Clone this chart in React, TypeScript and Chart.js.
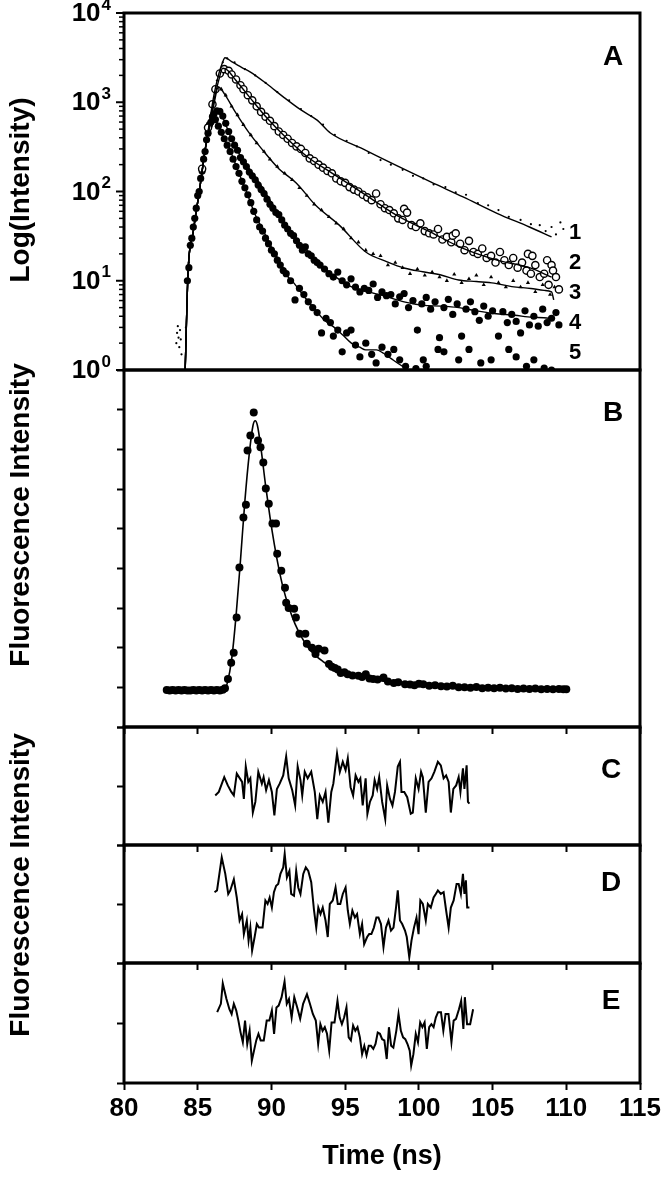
import React, { useEffect, useRef } from "react";
import { Chart, registerables } from "chart.js";

Chart.register(...registerables);

const FONT = '"Liberation Sans", Arial, Helvetica, sans-serif';
Chart.defaults.font.family = FONT;
Chart.defaults.color = "#000";

type Pt = [number, number];

// ---------------- Panel A : decay curves (time ns, counts) ----------------
const decayFit1: Pt[] = [
  [84.15, 1], [84.35, 13], [84.68, 34], [85.15, 112], [85.5, 290], [85.8, 600], [86.1, 1200], [86.4, 2000],
  [86.65, 2700], [86.85, 3150], [87.3, 2850], [88.0, 2450], [88.55, 2190], [89.7, 1600], [90.8, 1150],
  [92.0, 820], [93.1, 630], [94.0, 452], [96.2, 300], [98.5, 195], [100.8, 128], [103.0, 87], [105.3, 57],
  [107.5, 40], [109.0, 31],
];
const decayFit2: Pt[] = [
  [84.15, 1], [84.35, 13], [84.68, 34], [85.15, 112], [85.5, 290], [85.8, 560], [86.1, 1050], [86.4, 1700],
  [86.7, 2400], [87.0, 2300], [87.6, 1750], [88.5, 1150], [89.7, 665], [91.0, 400], [92.5, 240], [94.0, 165],
  [96.2, 96], [98.5, 54], [100.8, 35], [103.0, 23], [105.3, 17], [107.5, 14], [109.0, 11],
];
const decayFit3: Pt[] = [
  [84.15, 1], [84.35, 13], [84.68, 34], [85.15, 112], [85.5, 290], [85.8, 540], [86.1, 950], [86.4, 1480],
  [86.8, 1250], [87.5, 800], [88.5, 450], [89.4, 292], [90.5, 180], [91.7, 124], [93.0, 70], [94.6, 42],
  [96.4, 21], [97.85, 16.3], [99.06, 13.8], [100.27, 12.6], [101.5, 11.6], [102.7, 10.2], [103.9, 9.8],
  [105.1, 9.4], [106.3, 8.6], [107.6, 8.2], [108.5, 7.8], [109.0, 7.5], [109.15, 6.1],
];
const decayFit4: Pt[] = [
  [84.15, 1], [84.35, 13], [84.68, 34], [85.15, 112], [85.5, 290], [85.8, 520], [86.1, 740], [86.4, 820],
  [86.8, 620], [87.2, 420], [87.66, 292], [88.4, 190], [89.2, 124], [89.9, 80], [90.6, 52], [91.5, 32],
  [92.4, 22], [93.3, 15], [94.2, 11.5], [95.4, 8.6], [96.5, 7.6], [97.85, 6.6], [99.0, 5.8], [100.3, 5.3],
  [101.5, 5.2], [102.7, 5.0], [103.9, 4.6], [105.1, 4.3], [106.5, 4.1], [107.7, 3.9], [108.8, 3.8], [109.1, 3.6],
];
const decayFit5: Pt[] = [
  [84.15, 1], [84.35, 13], [84.68, 34], [85.15, 112], [85.5, 290], [85.8, 560], [86.0, 680], [86.3, 600],
  [86.7, 420], [87.19, 292], [87.8, 160], [88.34, 96], [88.9, 55], [89.5, 35], [90.1, 22], [90.6, 16],
  [91.05, 11.5], [91.53, 9.4], [92.3, 6.4], [92.99, 4.7], [93.6, 3.6], [94.2, 3.06], [94.8, 2.5], [95.42, 2.0],
  [96.0, 1.8], [96.39, 1.68], [97.12, 1.68], [97.6, 1.54], [98.1, 1.35], [98.57, 1.19], [99.3, 1.0], [100.0, 0.85],
];

const decayData1: Pt[] = [
  [83.55, 2.0], [83.6, 2.6], [83.65, 3.1], [83.7, 2.3], [83.75, 1.8], [83.8, 2.8], [83.85, 2.2], [83.9, 1.5],
  [84.2, 3], [84.4, 16], [84.6, 30], [85.0, 85], [85.4, 230], [85.9, 720], [86.3, 1750],
  [86.7, 2800], [87.0, 3100], [87.5, 2800], [88.2, 2350], [88.9, 2000], [89.6, 1650], [90.4, 1300], [91.2, 1050],
  [92.0, 840], [92.7, 700], [93.5, 560], [94.3, 430], [95.1, 370], [95.8, 320], [96.6, 270], [97.4, 225],
  [98.1, 200], [98.9, 175], [99.6, 150], [100.3, 140], [101.0, 120], [101.8, 112], [102.5, 98], [103.2, 92],
  [104.0, 74], [104.7, 70], [105.4, 62], [106.1, 52], [106.9, 48], [107.6, 43], [108.2, 42], [108.6, 36],
  [109.0, 40], [109.3, 33], [109.6, 45], [109.8, 38],
];
const decayData2: Pt[] = [
  [85.3, 180], [85.7, 520], [86.0, 950],
  [86.2, 1400], [86.5, 2100], [86.8, 2350], [87.1, 2250], [87.3, 2050], [87.6, 1800], [87.9, 1550], [88.1, 1400],
  [88.4, 1200], [88.7, 1050], [89.0, 900], [89.3, 780], [89.6, 690], [89.9, 620], [90.2, 540], [90.5, 470],
  [90.8, 430], [91.1, 390], [91.4, 350], [91.7, 320], [92.0, 300], [92.3, 270], [92.6, 235], [92.9, 220],
  [93.2, 200], [93.5, 185], [93.8, 170], [94.1, 160], [94.4, 140], [94.7, 130], [95.0, 125], [95.3, 112],
  [95.6, 105], [95.9, 100], [96.2, 92], [96.5, 86], [96.8, 80], [97.1, 95], [97.4, 72], [97.7, 65], [98.0, 62],
  [98.3, 57], [98.6, 50], [98.9, 48], [99.0, 64], [99.2, 58], [99.5, 42], [99.8, 40], [100.1, 44], [100.4, 36],
  [100.7, 34], [101.0, 33], [101.3, 38], [101.6, 29], [101.9, 31], [102.2, 27], [102.3, 32], [102.5, 34],
  [102.8, 26], [103.1, 22], [103.4, 28], [103.7, 21], [104.0, 20], [104.3, 23], [104.6, 18], [104.9, 19],
  [105.2, 16], [105.5, 21], [105.8, 17], [106.1, 15], [106.4, 18], [106.7, 14], [107.0, 16], [107.3, 13],
  [107.4, 20], [107.6, 12], [107.7, 19], [107.9, 15], [108.2, 11], [108.5, 12], [108.7, 17], [108.8, 9],
  [109.0, 15], [109.1, 13], [109.3, 11], [109.5, 8],
];
const decayData3: Pt[] = [
  [86.0, 900], [86.3, 1350], [86.6, 1400], [86.9, 1200], [87.3, 900], [87.7, 720], [88.1, 560], [88.6, 430],
  [89.0, 350], [89.5, 280], [89.9, 230], [90.4, 190], [90.9, 160], [91.4, 135], [91.9, 110], [92.4, 90],
  [92.9, 72], [93.4, 62], [93.9, 52], [94.4, 44], [94.9, 38], [95.4, 30], [95.9, 27], [96.4, 22], [96.9, 20],
  [97.4, 19], [97.9, 15], [98.4, 16], [98.9, 14], [99.4, 12], [99.9, 13.5], [100.4, 11.5], [100.9, 12.5],
  [101.4, 11], [101.9, 10], [102.4, 11.8], [102.9, 9.5], [103.4, 10.5], [103.9, 11.5], [104.4, 9], [104.9, 11],
  [105.4, 9.5], [105.9, 8.5], [106.4, 10], [106.9, 8.5], [107.4, 9.5], [107.9, 7.5], [108.4, 9], [108.9, 7],
  [109.2, 8.5],
];
const decayData4: Pt[] = [
  [84.3, 10], [84.5, 25], [84.7, 40], [84.9, 65], [85.1, 100], [85.3, 170], [85.5, 280], [85.7, 450], [85.9, 600],
  [86.1, 740], [86.3, 800], [86.5, 790], [86.7, 700], [86.9, 580], [87.1, 470], [87.3, 390], [87.5, 330],
  [87.7, 290], [87.9, 240], [88.1, 215], [88.3, 190], [88.5, 165], [88.7, 150], [88.9, 135], [89.1, 118],
  [89.3, 105], [89.5, 95], [89.7, 82], [89.9, 72], [90.1, 65], [90.3, 58], [90.5, 55], [90.7, 48], [90.9, 42],
  [91.1, 38], [91.3, 34], [91.5, 32], [91.7, 28], [91.9, 25], [92.1, 22], [92.3, 24], [92.5, 20], [92.7, 19],
  [92.9, 17], [93.1, 16], [93.3, 15], [93.6, 13.5], [93.9, 12], [94.2, 11], [94.5, 12.5], [94.8, 10], [95.1, 9],
  [95.4, 10.5], [95.7, 8.5], [96.0, 7.5], [96.3, 8.2], [96.6, 7.8], [96.9, 9.2], [97.2, 6.5], [97.5, 7.5],
  [97.8, 6.8], [98.1, 7.0], [98.4, 5.5], [98.7, 6.6], [99.0, 7.2], [99.3, 5.0], [99.6, 6.0], [99.9, 2.8],
  [100.2, 5.5], [100.5, 6.5], [100.8, 4.8], [101.1, 5.8], [101.4, 2.3], [101.7, 5.0], [102.0, 6.2], [102.3, 4.2],
  [102.6, 5.5], [102.9, 2.4], [103.2, 4.8], [103.5, 5.8], [103.8, 4.5], [104.1, 3.6], [104.4, 5.2], [104.7, 4.0],
  [105.0, 4.6], [105.4, 2.4], [105.7, 4.5], [106.0, 3.4], [106.3, 4.2], [106.6, 3.5], [106.9, 2.6], [107.2, 4.6],
  [107.5, 3.2], [107.8, 4.0], [108.1, 3.1], [108.4, 4.8], [108.7, 3.4], [109.0, 3.8], [109.3, 4.4], [109.5, 3.2],
];
const decayData5: Pt[] = [
  [84.4, 14], [84.6, 30], [84.8, 50], [85.0, 90], [85.2, 140], [85.4, 230],
  [85.6, 380], [85.8, 560], [86.0, 690], [86.2, 640], [86.4, 540], [86.6, 460], [86.8, 390], [87.0, 330],
  [87.2, 280], [87.4, 230], [87.6, 190], [87.8, 160], [88.0, 130], [88.2, 110], [88.4, 92], [88.6, 75],
  [88.8, 60], [89.0, 48], [89.2, 40], [89.4, 36], [89.6, 30], [89.8, 26], [90.0, 22], [90.2, 20], [90.4, 17],
  [90.6, 15], [90.8, 13], [91.0, 12], [91.3, 10], [91.6, 6.1], [91.9, 8.2], [92.2, 7.0], [92.5, 5.8], [92.8, 5.0],
  [93.1, 4.4], [93.4, 2.6], [93.7, 3.8], [94.0, 3.4], [94.2, 2.4], [94.5, 2.8], [94.8, 1.6], [95.1, 2.6],
  [95.4, 2.8], [95.7, 1.9], [96.0, 1.4], [96.4, 2.0], [96.8, 1.5], [97.1, 1.2], [97.5, 1.8], [97.9, 1.5],
  [98.3, 1.7], [98.7, 1.3], [99.1, 1.1], [99.8, 1.04], [100.3, 1.3], [100.5, 1.1], [101.3, 1.7], [101.7, 1.6],
  [102.7, 1.3], [103.4, 1.7], [104.2, 1.2], [104.9, 1.3], [106.1, 1.7], [106.6, 1.4], [107.3, 1.1], [107.8, 1.3],
  [108.5, 1.05], [109.0, 1.0],
];

// ---------------- Panel B : instrument decay with fit ----------------
const pulseData: Pt[] = [
  [82.9, 0.93], [83.1, 0.92], [83.3, 0.93], [83.5, 0.92], [83.7, 0.93], [83.9, 0.92], [84.1, 0.93], [84.3, 0.92],
  [84.5, 0.92], [84.7, 0.93], [84.9, 0.92], [85.1, 0.93], [85.3, 0.92], [85.5, 0.93], [85.7, 0.92], [85.9, 0.93],
  [86.1, 0.92], [86.3, 0.93], [86.5, 0.92], [86.7, 0.94], [86.85, 0.98], [87.05, 1.21], [87.27, 1.62],
  [87.44, 1.87], [87.64, 2.76], [87.83, 4.02], [88.1, 5.28], [88.27, 5.6], [88.38, 6.97], [88.57, 7.35],
  [88.8, 7.93], [89.09, 7.22], [89.26, 7.05], [89.45, 6.67], [89.62, 6.01], [89.82, 5.63], [90.07, 5.13],
  [90.31, 5.13], [90.39, 4.37], [90.67, 3.94], [90.92, 3.51], [91.0, 3.13], [91.17, 3.0], [91.54, 2.98],
  [91.66, 2.76], [91.9, 2.35], [92.3, 2.35], [92.4, 2.1], [92.75, 2.0], [92.99, 1.84], [93.2, 1.97], [93.6, 1.93],
  [93.9, 1.59], [94.1, 1.52], [94.3, 1.49], [94.5, 1.45], [94.7, 1.36], [94.95, 1.38], [95.17, 1.33], [95.5, 1.3],
  [95.9, 1.29], [96.15, 1.26], [96.4, 1.33], [96.65, 1.22], [96.9, 1.21], [97.2, 1.2], [97.6, 1.25], [97.9, 1.15],
  [98.3, 1.11], [98.6, 1.13], [99.06, 1.08], [99.4, 1.07], [99.7, 1.05], [100.0, 1.09], [100.3, 1.08],
  [100.7, 1.04], [101.1, 1.05], [101.5, 1.03], [101.9, 1.02], [102.3, 1.04], [102.7, 1.0], [103.1, 1.0],
  [103.5, 0.99], [103.9, 1.01], [104.3, 0.98], [104.7, 0.99], [105.1, 0.98], [105.5, 0.99], [105.9, 0.97],
  [106.3, 0.98], [106.7, 0.96], [107.1, 0.97], [107.5, 0.96], [107.9, 0.97], [108.3, 0.95], [108.7, 0.96],
  [109.1, 0.95], [109.5, 0.96], [109.8, 0.95], [110.0, 0.95],
];
const pulseFit: Pt[] = [
  [82.9, 0.92], [86.8, 0.92], [87.0, 1.1], [87.3, 1.7], [87.6, 2.8], [87.9, 4.2], [88.2, 5.7], [88.5, 6.9],
  [88.75, 7.6], [88.9, 7.72], [89.05, 7.6], [89.3, 7.0], [89.6, 6.1], [89.9, 5.3], [90.2, 4.6], [90.5, 4.0],
  [90.8, 3.5], [91.2, 3.0], [91.6, 2.6], [92.0, 2.3], [92.5, 2.0], [93.0, 1.8], [93.5, 1.65], [94.0, 1.52],
  [95.0, 1.36], [96.0, 1.26], [97.0, 1.19], [98.0, 1.13], [99.0, 1.08], [100.0, 1.05], [102.0, 1.01],
  [104.0, 0.98], [106.0, 0.97], [108.0, 0.96], [110.0, 0.95],
];

// ---------------- Panels C, D, E : residuals ----------------
const residC: Pt[] = [
  [86.19, -1.6], [86.43, -1.0], [86.80, 1.5], [87.04, 0.1], [87.28, -1.0], [87.45, -1.6], [87.65, 2.1], [88.01, 0.7], [88.13, -2.2], [88.26, 3.3],
  [88.43, 0.7], [88.57, 1.3], [88.74, -4.5], [88.91, -2.7], [89.11, 2.4], [89.35, 0.4], [89.47, 1.5], [89.64, -0.7], [89.83, 1.0], [90.03, -1.0],
  [90.20, -5.0], [90.37, -0.5], [90.56, 0.4], [90.80, 1.8], [91.00, 5.0], [91.17, 1.3], [91.41, -0.7], [91.61, -3.3], [91.78, 3.3], [91.97, 1.0],
  [92.09, -1.6], [92.26, 2.4], [92.46, 1.3], [92.70, 2.4], [92.94, -1.0], [93.11, -5.6], [93.28, -1.6], [93.48, -2.7], [93.67, -1.0], [93.86, -6.2],
  [94.06, -1.0], [94.20, 0.4], [94.45, 5.5], [94.64, 2.4], [94.84, 4.1], [95.03, 2.7], [95.18, 4.7], [95.37, -0.2], [95.54, -1.6], [95.71, 1.8],
  [95.90, 0.7], [96.03, 1.3], [96.19, -3.3], [96.39, 1.3], [96.51, -4.7], [96.68, -2.7], [96.87, -1.6], [97.00, 1.0], [97.17, -0.5], [97.31, 1.5],
  [97.51, -2.7], [97.72, -5.6], [97.85, 0.1], [98.04, -2.2], [98.21, -3.3], [98.38, -1.0], [98.57, 3.3], [98.72, 4.1], [98.82, -1.0], [99.01, -1.0],
  [99.21, -1.9], [99.45, -4.7], [99.59, -4.5], [99.79, 1.3], [99.98, -0.5], [100.15, 2.4], [100.27, 1.5], [100.47, -4.5], [100.66, 0.7], [100.86, 1.3],
  [101.05, 2.4], [101.29, 4.1], [101.49, 3.5], [101.68, 1.3], [101.85, 1.8], [102.02, 0.7], [102.17, -4.5], [102.34, -0.5], [102.53, 0.1], [102.70, 1.5],
  [102.82, -1.0], [102.99, 3.0], [103.09, -0.5], [103.24, 3.5], [103.33, -2.7], [103.43, -3.0],
];
const residD: Pt[] = [
  [86.14, 2.0], [86.31, 2.3], [86.63, 7.9], [86.87, 5.1], [87.07, 1.7], [87.21, 2.3], [87.45, 4.2], [87.65, 1.1], [87.84, -2.8], [88.01, -1.7],
  [88.13, -5.1], [88.33, -2.8], [88.45, -6.2], [88.57, -4.0], [88.69, -7.9], [88.86, -5.6], [89.01, -3.4], [89.15, -4.0], [89.40, -4.0], [89.59, 0.6],
  [89.74, 0.0], [89.88, 1.1], [90.03, -0.6], [90.17, 2.0], [90.32, 3.1], [90.46, 3.4], [90.61, 5.1], [90.80, 6.2], [90.90, 8.5], [91.05, 4.5],
  [91.22, 5.6], [91.34, 1.7], [91.53, 1.4], [91.68, 5.6], [91.82, 2.8], [91.97, 1.7], [92.16, 5.1], [92.33, 6.2], [92.50, 5.6], [92.70, 3.7],
  [92.89, -1.1], [93.04, -4.0], [93.18, -0.6], [93.33, -1.7], [93.48, -0.6], [93.67, -2.8], [93.82, -5.6], [93.96, 0.0], [94.16, 0.6], [94.35, 2.8],
  [94.50, 0.0], [94.67, 0.0], [94.84, 1.7], [95.03, 2.8], [95.18, -1.1], [95.32, -3.4], [95.49, -1.1], [95.66, -2.3], [95.81, -1.7], [96.00, -5.1],
  [96.15, -3.4], [96.29, -6.8], [96.49, -5.6], [96.63, -5.1], [96.78, -5.1], [96.95, -4.0], [97.12, -2.3], [97.26, -2.3], [97.43, -3.4], [97.60, -7.3],
  [97.77, -4.0], [97.94, -2.8], [98.11, -4.5], [98.28, -4.0], [98.45, -0.6], [98.57, 2.3], [98.72, -2.8], [98.87, -3.4], [99.06, -4.5], [99.18, -5.6],
  [99.35, -9.0], [99.50, -6.2], [99.67, -4.0], [99.84, -2.3], [99.98, -5.1], [100.10, 0.6], [100.27, 0.0], [100.47, -2.8], [100.61, 0.0], [100.81, -0.6],
  [101.00, 1.1], [101.15, 1.7], [101.29, 2.3], [101.49, 1.7], [101.68, 2.0], [101.85, -1.1], [102.02, -4.0], [102.17, -0.6], [102.36, 0.6], [102.56, 3.4],
  [102.70, 3.4], [102.85, 1.7], [102.99, 5.1], [103.09, 1.7], [103.19, 4.0], [103.28, -0.6], [103.43, -0.6],
];
const residE: Pt[] = [
  [86.32, 1.8], [86.57, 3.2], [86.70, 6.6], [86.95, 4.0], [87.15, 2.3], [87.30, 1.5], [87.45, 3.2], [87.61, 2.1], [87.76, 0.4], [87.91, -1.6],
  [88.06, -3.2], [88.21, 0.4], [88.36, -3.5], [88.52, -1.3], [88.67, -6.3], [88.82, -4.6], [88.97, -2.9], [89.12, -1.8], [89.27, -2.9], [89.48, -2.9],
  [89.68, 0.4], [89.86, 0.4], [90.03, 2.1], [90.18, -1.8], [90.34, 2.6], [90.49, 2.9], [90.69, 4.3], [90.89, 6.9], [91.04, 3.2], [91.19, 4.0],
  [91.37, 0.9], [91.55, 4.3], [91.75, 2.6], [91.95, 0.7], [92.15, 3.2], [92.41, 4.8], [92.61, 3.2], [92.81, 1.5], [93.01, 0.4], [93.17, -3.5],
  [93.32, -0.2], [93.47, -1.3], [93.62, -0.7], [93.77, -1.8], [93.92, -4.6], [94.08, 0.1], [94.28, 0.1], [94.48, 3.7], [94.63, 0.9], [94.78, -0.2],
  [94.93, 0.9], [95.09, 2.6], [95.24, -2.4], [95.39, -2.9], [95.54, -0.4], [95.69, -1.3], [95.84, -0.7], [96.00, -2.4], [96.15, -5.2], [96.30, -3.8],
  [96.45, -5.4], [96.60, -3.8], [96.75, -3.8], [96.91, -4.3], [97.06, -3.5], [97.21, -1.6], [97.36, -1.8], [97.51, -2.7], [97.66, -2.9], [97.82, -6.0],
  [97.97, -0.7], [98.12, -3.8], [98.27, -4.1], [98.47, -1.3], [98.62, 1.5], [98.78, -1.3], [98.93, -2.4], [99.08, -2.7], [99.23, -3.5], [99.38, -4.6],
  [99.48, -7.1], [99.63, -5.2], [99.79, -1.8], [99.94, -3.2], [100.09, 0.1], [100.24, -0.7], [100.39, 0.1], [100.54, -4.3], [100.70, -0.7], [100.85, -0.2],
  [101.00, -0.7], [101.15, 0.9], [101.30, 1.8], [101.50, 1.8], [101.66, -1.3], [101.81, 1.5], [102.01, 1.5], [102.21, -3.2], [102.36, 0.4], [102.52, 0.7],
  [102.72, 2.3], [102.87, 3.7], [103.02, -1.0], [103.12, 4.3], [103.27, -0.2], [103.48, -0.2], [103.68, 2.3],
];

// ---------------- ticks & labels ----------------
const xTickLabels = ["80", "85", "90", "95", "100", "105", "110", "115"];
const logDecades = [1, 10, 100, 1000, 10000];
const logExponents = ["0", "1", "2", "3", "4"];
const logMinorMultipliers = [2, 3, 4, 5, 6, 7, 8, 9];
const curveLabels = ["1", "2", "3", "4", "5"];
const panelLetters = ["A", "B", "C", "D", "E"];
const yTitles = ["Log(Intensity)", "Fluorescence Intensity", "Fluorescence Intensity"];
const xTitle = "Time (ns)";

// ---------------- layout ----------------
const W = 661;
const PLOT_LEFT = 124;
const PLOT_RIGHT = 640;

const toXY = (a: Pt[]) => a.map(([x, y]) => ({ x, y }));

const framePlugin = {
  id: "frame",
  afterDatasetsDraw(chart: any) {
    const { ctx, chartArea: a } = chart;
    ctx.save();
    ctx.strokeStyle = "#000";
    ctx.lineWidth = 3;
    ctx.strokeRect(a.left, a.top, a.right - a.left, a.bottom - a.top);
    ctx.restore();
  },
};

const textPlugin = {
  id: "panelText",
  afterDraw(chart: any, _args: any, opts: any) {
    const items = (opts && opts.items) || [];
    const ctx = chart.ctx;
    ctx.save();
    ctx.fillStyle = "#000";
    ctx.textAlign = "center";
    ctx.textBaseline = "middle";
    for (const it of items) {
      ctx.font = `bold ${it.size}px ${FONT}`;
      ctx.fillText(it.text, it.x, it.y);
    }
    ctx.restore();
  },
};

const logAxisPlugin = {
  id: "logAxis",
  afterDraw(chart: any) {
    const y = chart.scales.y;
    const ctx = chart.ctx;
    const left = chart.chartArea.left;
    ctx.save();
    ctx.strokeStyle = "#000";
    ctx.fillStyle = "#000";
    logDecades.forEach((d, i) => {
      const py = y.getPixelForValue(d);
      ctx.lineWidth = 2;
      ctx.beginPath();
      ctx.moveTo(left - 8, py);
      ctx.lineTo(left, py);
      ctx.stroke();
      if (i < logDecades.length - 1) {
        ctx.lineWidth = 1.5;
        logMinorMultipliers.forEach((m) => {
          const p = y.getPixelForValue(d * m);
          ctx.beginPath();
          ctx.moveTo(left - 5, p);
          ctx.lineTo(left, p);
          ctx.stroke();
        });
      }
      const right = left - 13;
      ctx.textAlign = "right";
      ctx.textBaseline = "middle";
      ctx.font = `bold 17px ${FONT}`;
      const ew = ctx.measureText(logExponents[i]).width;
      ctx.fillText(logExponents[i], right, py - 8);
      ctx.font = `bold 26px ${FONT}`;
      ctx.fillText("10", right - ew - 1, py + 1);
    });
    ctx.restore();
  },
};

const fitLine = (pts: Pt[], width = 1.5) => ({
  data: toXY(pts),
  showLine: true,
  pointRadius: 0,
  borderColor: "#000",
  borderWidth: width,
  cubicInterpolationMode: "monotone",
  fill: false,
});
const traceLine = (pts: Pt[]) => ({
  data: toXY(pts),
  showLine: true,
  pointRadius: 0,
  borderColor: "#000",
  borderWidth: 2,
  tension: 0,
  fill: false,
});
const markers = (pts: Pt[], style: any) => ({
  data: toXY(pts),
  showLine: false,
  pointStyle: "circle",
  pointBackgroundColor: "#000",
  pointBorderColor: "#000",
  pointBorderWidth: 0,
  ...style,
});

const yWidth = (s: any) => {
  s.width = PLOT_LEFT;
};

const tickGrid = {
  display: true,
  drawOnChartArea: false,
  drawTicks: true,
  tickLength: 7,
  tickWidth: 2,
  tickColor: "#000",
};

const xAxis = (height: number, labels: boolean) => ({
  type: "linear",
  min: 80,
  max: 115,
  ticks: {
    display: labels,
    stepSize: 5,
    padding: 3,
    font: { size: 26, weight: "bold" },
    color: "#000",
    maxRotation: 0,
    autoSkip: false,
    callback: (_v: any, i: number) => xTickLabels[i],
  },
  grid: tickGrid,
  border: { display: false },
  title: labels
    ? { display: true, text: xTitle, font: { size: 27, weight: "bold" }, color: "#000", padding: { top: 0, bottom: 26 } }
    : { display: false },
  afterFit: (s: any) => {
    s.height = height;
    s.paddingLeft = 0;
    s.paddingRight = 0;
  },
});

const linearY = (min: number, max: number, step: number) => ({
  type: "linear",
  min,
  max,
  ticks: { display: false, stepSize: step },
  grid: tickGrid,
  border: { display: false },
  afterFit: yWidth,
});

const baseOptions = (padTop: number, padBottom: number, items: any[], scales: any) => ({
  responsive: false,
  animation: false,
  devicePixelRatio: 1,
  events: [],
  layout: { padding: { top: padTop, right: W - PLOT_RIGHT, bottom: padBottom, left: 0 } },
  plugins: { legend: { display: false }, tooltip: { enabled: false }, panelText: { items } },
  scales,
});

// canvas placements (page px)
const canvasA = { top: 0, height: 380 };
const canvasB = { top: 360, height: 380 };
const canvasC = { top: 717, height: 141 };
const canvasD = { top: 835, height: 141 };
const canvasE = { top: 953, height: 246 };

const titleStyle = (cx: number, cy: number): React.CSSProperties => ({
  position: "absolute",
  left: cx,
  top: cy,
  transform: "translate(-50%, -50%) rotate(-90deg)",
  font: `bold 28px ${FONT}`,
  whiteSpace: "nowrap",
  color: "#000",
  lineHeight: 1,
});

export default function App() {
  const refA = useRef<HTMLCanvasElement>(null);
  const refB = useRef<HTMLCanvasElement>(null);
  const refC = useRef<HTMLCanvasElement>(null);
  const refD = useRef<HTMLCanvasElement>(null);
  const refE = useRef<HTMLCanvasElement>(null);

  useEffect(() => {
    const charts: Chart[] = [];

    const itemsA = [
      { text: panelLetters[0], x: 613, y: 57, size: 28 },
      ...curveLabels.map((t, i) => ({ text: t, x: 575, y: 233 + i * 30, size: 22 })),
    ];
    charts.push(
      new Chart(refA.current as HTMLCanvasElement, {
        type: "scatter",
        data: {
          datasets: [
            fitLine(decayFit1, 1.4),
            fitLine(decayFit2, 1.4),
            fitLine(decayFit3, 1.4),
            fitLine(decayFit4, 1.4),
            fitLine(decayFit5, 1.4),
            markers(decayData1, { pointRadius: 1.1 }),
            markers(decayData2, { pointRadius: 3.6, pointBackgroundColor: "#fff", pointBorderWidth: 1.4 }),
            markers(decayData3, { pointRadius: 2.4, pointStyle: "triangle" }),
            markers(decayData4, { pointRadius: 3.6 }),
            markers(decayData5, { pointRadius: 3.6 }),
          ] as any,
        },
        options: baseOptions(13, 10, itemsA, {
          x: { type: "linear", min: 80, max: 115, display: false },
          y: {
            type: "logarithmic",
            min: 1,
            max: 10000,
            ticks: { display: false },
            grid: { display: false },
            border: { display: false },
            afterFit: yWidth,
          },
        }) as any,
        plugins: [framePlugin, textPlugin, logAxisPlugin],
      })
    );

    charts.push(
      new Chart(refB.current as HTMLCanvasElement, {
        type: "scatter",
        data: {
          datasets: [fitLine(pulseFit, 1.6), markers(pulseData, { pointRadius: 4 })] as any,
        },
        options: baseOptions(10, 0, [{ text: panelLetters[1], x: 613, y: 53, size: 28 }], {
          x: xAxis(13, false),
          y: linearY(0, 9, 1),
        }) as any,
        plugins: [framePlugin, textPlugin],
      })
    );

    const residPanel = (ref: any, data: Pt[], letter: string, ly: number, xh: number) =>
      new Chart(ref.current as HTMLCanvasElement, {
        type: "scatter",
        data: { datasets: [traceLine(data)] as any },
        options: baseOptions(10, 0, [{ text: letter, x: 611, y: ly, size: 28 }], {
          x: xAxis(xh, xh > 20),
          y: linearY(-10, 10, 10),
        }) as any,
        plugins: [framePlugin, textPlugin],
      });

    charts.push(residPanel(refC, residC, panelLetters[2], 53, 13));
    charts.push(residPanel(refD, residD, panelLetters[3], 48, 13));
    charts.push(residPanel(refE, residE, panelLetters[4], 48, 116));

    return () => charts.forEach((c) => c.destroy());
  }, []);

  const cv = (p: { top: number; height: number }): React.CSSProperties => ({
    position: "absolute",
    left: 0,
    top: p.top,
    width: W,
    height: p.height,
    display: "block",
  });

  return (
    <div
      style={{
        position: "absolute",
        left: 0,
        top: 0,
        width: W,
        height: 1199,
        background: "#fff",
        overflow: "hidden",
      }}
    >
      <canvas ref={refA} width={W} height={canvasA.height} style={cv(canvasA)} />
      <canvas ref={refB} width={W} height={canvasB.height} style={cv(canvasB)} />
      <canvas ref={refC} width={W} height={canvasC.height} style={cv(canvasC)} />
      <canvas ref={refD} width={W} height={canvasD.height} style={cv(canvasD)} />
      <canvas ref={refE} width={W} height={canvasE.height} style={cv(canvasE)} />
      <div style={titleStyle(20, 190)}>{yTitles[0]}</div>
      <div style={titleStyle(20, 515)}>{yTitles[1]}</div>
      <div style={titleStyle(20, 885)}>{yTitles[2]}</div>
    </div>
  );
}
